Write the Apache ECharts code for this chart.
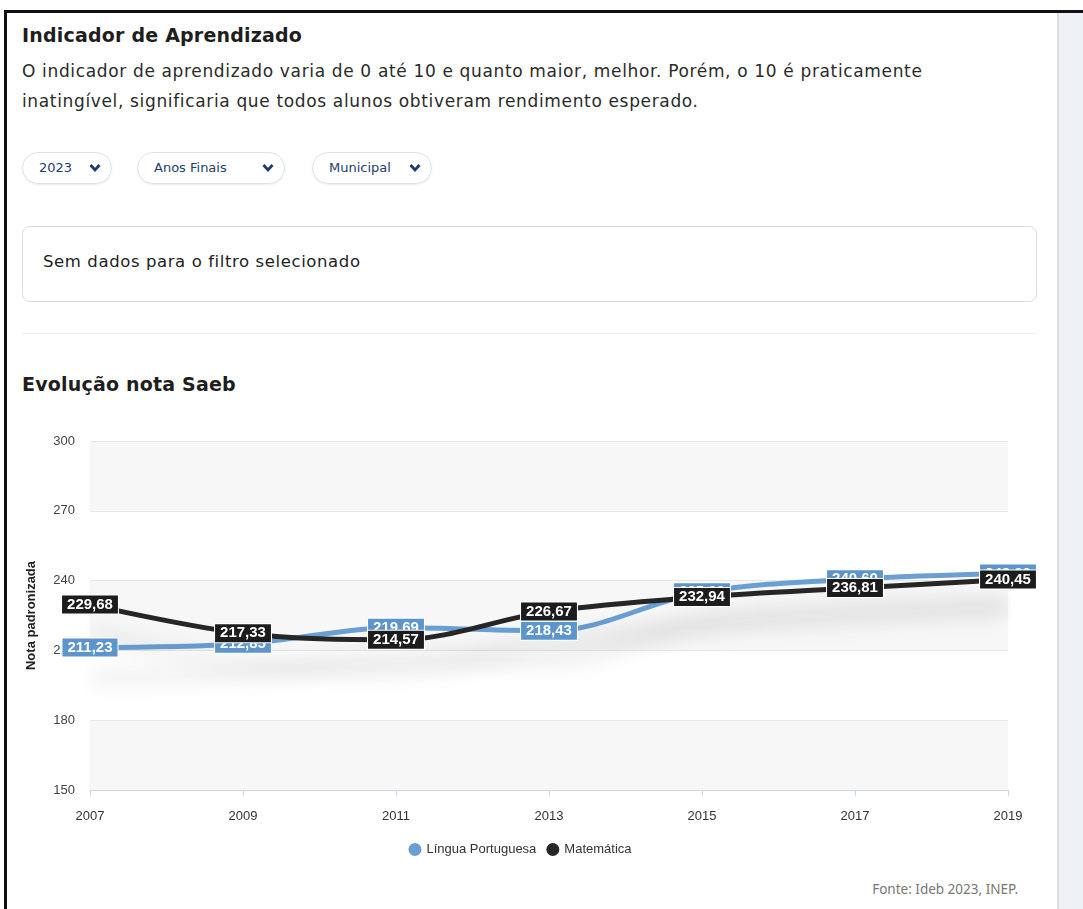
<!DOCTYPE html>
<html>
<head>
<meta charset="utf-8">
<script src="https://cdn.jsdelivr.net/npm/echarts@6/dist/echarts.min.js"></script>
<style>
	html, body { margin: 0; padding: 0; background: #fff; }
	body { width: 1083px; height: 909px; position: relative; overflow: hidden; font-family: "DejaVu Sans", sans-serif; color: #222; }
	.frame { position: absolute; left: 4px; top: 10px; right: 0; bottom: 0; border-top: 3px solid #111; border-left: 3px solid #111; }
	.side { position: absolute; left: 1057px; top: 13px; width: 26px; bottom: 0; background: #eef1f5; border-left: 2px solid #dcdcdc; }
	h2 { position: absolute; left: 22px; margin: 0; font-size: 19px; letter-spacing: 0.2px; font-weight: 700; color: #1e1e1e; }
	.desc { position: absolute; left: 22px; top: 56px; width: 940px; font-size: 17px; letter-spacing: 0.65px; line-height: 30px; color: #2a2a2a; }
	.pill { position: absolute; top: 152px; height: 30px; border: 1px solid #dde3ea; border-radius: 16px; font-size: 13px; color: #23406e; line-height: 30px; box-shadow: 0 1px 2px rgba(0,0,0,0.08); }
	.pill span { position: absolute; left: 16px; }
	.pill svg { position: absolute; right: 10px; top: 10px; }
	.empty { position: absolute; left: 22px; top: 226px; width: 1013px; height: 74px; border: 1px solid #dcdcdc; border-radius: 8px; }
	.empty span { position: absolute; left: 20px; top: 25px; font-size: 16.5px; letter-spacing: 0.6px; color: #222; }
	.rule { position: absolute; left: 22px; top: 333px; width: 1015px; height: 1px; background: #eeeeee; }
	#chart { position: absolute; left: 0; top: 415px; width: 1040px; height: 455px; }
	.fonte { position: absolute; right: 65px; top: 880px; font-family: "Noto Sans", sans-serif; font-size: 13.5px; color: #777; }
</style>
</head>
<body>
<div class="frame"></div>
<div class="side"></div>
<h2 style="top:24px">Indicador de Aprendizado</h2>
<div class="desc">O indicador de aprendizado varia de 0 até 10 e quanto maior, melhor. Porém, o 10 é praticamente inatingível, significaria que todos alunos obtiveram rendimento esperado.</div>
<div class="pill" style="left:22px;width:88px"><span>2023</span><svg width="12" height="10"><polyline points="1.5,2 6,7 10.5,2" fill="none" stroke="#1b3a78" stroke-width="2.8"/></svg></div>
<div class="pill" style="left:137px;width:146px"><span>Anos Finais</span><svg width="12" height="10"><polyline points="1.5,2 6,7 10.5,2" fill="none" stroke="#1b3a78" stroke-width="2.8"/></svg></div>
<div class="pill" style="left:312px;width:118px"><span>Municipal</span><svg width="12" height="10"><polyline points="1.5,2 6,7 10.5,2" fill="none" stroke="#1b3a78" stroke-width="2.8"/></svg></div>
<div class="empty"><span>Sem dados para o filtro selecionado</span></div>
<div class="rule"></div>
<h2 style="top:373px">Evolução nota Saeb</h2>
<div id="chart"></div>
<div class="fonte">Fonte: Ideb 2023, INEP.</div>
<script>
var anos = ['2007', '2009', '2011', '2013', '2015', '2017', '2019'];
var linguaPortuguesa = [211.23, 212.85, 219.69, 218.43, 235.0, 240.6, 243.0];
var matematica = [229.68, 217.33, 214.57, 226.67, 232.94, 236.81, 240.45];
var yTicks = [150, 180, 210, 240, 270, 300];

var fmt = function(p) {
	return p.value.toFixed(2).replace('.', ',');
};

var makeSerie = function(name, data, color, labelBg) {
	return {
		name: name,
		type: 'line',
		smooth: 0.35,
		data: data,
		symbol: 'circle',
		symbolSize: 8,
		itemStyle: { color: color },
		lineStyle: {
			width: 5,
			color: color,
			shadowColor: 'rgba(0,0,0,0.2)',
			shadowBlur: 22,
			shadowOffsetY: 30
		},
		label: {
			show: true,
			position: 'inside',
			formatter: fmt,
			color: '#fff',
			fontFamily: 'Liberation Sans, Arial',
			fontWeight: 'bold',
			fontSize: 15,
			backgroundColor: labelBg,
			padding: [2, 5, 1, 5],
			borderColor: '#fff',
			borderWidth: 1
		}
	};
};

var chart = echarts.init(document.getElementById('chart'));
chart.setOption({
	animation: false,
	textStyle: { fontFamily: 'Liberation Sans, Arial' },
	grid: { left: 90, right: 32, top: 26, bottom: 80 },
	legend: {
		data: ['Língua Portuguesa', 'Matemática'],
		bottom: 9,
		left: 'center',
		icon: 'circle',
		itemWidth: 13,
		itemHeight: 13,
		itemGap: 10,
		textStyle: { fontSize: 13, color: '#333' }
	},
	xAxis: {
		type: 'category',
		boundaryGap: false,
		data: anos,
		axisLine: { lineStyle: { color: '#ccd6eb' } },
		axisTick: { length: 6, lineStyle: { color: '#ccd6eb' } },
		axisLabel: { margin: 20, fontSize: 13, color: '#333' }
	},
	yAxis: {
		type: 'value',
		min: yTicks[0],
		max: yTicks[yTicks.length - 1],
		interval: 30,
		name: 'Nota padronizada',
		nameLocation: 'middle',
		nameGap: 52,
		nameTextStyle: { fontWeight: 'bold', fontSize: 13, color: '#222' },
		axisLabel: { margin: 15, fontSize: 13, color: '#444' },
		splitLine: { lineStyle: { color: '#e6e6e6' } },
		splitArea: { show: true, areaStyle: { color: ['#f7f7f7', '#ffffff'] } }
	},
	series: [
		makeSerie('Língua Portuguesa', linguaPortuguesa, '#6a9fd4', '#5b95cc'),
		makeSerie('Matemática', matematica, '#262626', '#1c1c1c')
	]
});
</script>
</body>
</html>
